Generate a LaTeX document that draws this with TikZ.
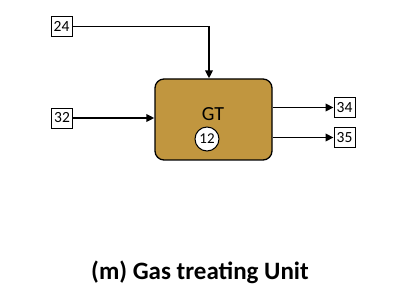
\documentclass[tikz,border=0pt]{standalone}
\usepackage{fontspec}
\setmainfont{Carlito}
\usetikzlibrary{arrows.meta}
\definecolor{gtfill}{HTML}{C1963F}
\begin{document}
\begin{tikzpicture}[x=1pt,y=-1pt,
  tag/.style={draw=black,line width=0.9pt,fill=white,minimum width=21pt,minimum height=20pt,inner sep=0pt,font=\fontsize{15.5}{15.5}\selectfont},
  unit/.style={draw=black,line width=1.3pt,fill=gtfill,rounded corners=9pt,minimum width=117pt,minimum height=81pt,inner sep=0pt},
  flow/.style={line width=1.8pt,-{Triangle[length=8pt,width=7.5pt]}},
  badge/.style={circle,draw=black,line width=1pt,fill=white,minimum size=24pt,inner sep=0pt,font=\fontsize{15}{15}\selectfont}]
\useasboundingbox (0,0) rectangle (400,286);
\node[unit] (gt) at (213.5,119.5) {};
\node[font=\fontsize{20}{20}\selectfont,anchor=base] (gtlabel) at (213,121) {GT};
\node[badge] (b12) at (207,139) {12};
\node[tag] (t24) at (61.5,26.5) {24};
\node[tag] (t32) at (62,118) {32};
\node[tag] (t34) at (344.5,107.5) {34};
\node[tag] (t35) at (344.5,137.5) {35};
\coordinate (c24) at (209,26.5);
\draw[flow] (t24.east) -- (c24) -- (c24 |- gt.north);
\draw[flow] (t32.east) -- (t32.east -| gt.west);
\draw[flow] (t34.west -| gt.east) -- (t34.west);
\draw[flow] (t35.west -| gt.east) -- (t35.west);
\node[font=\fontsize{25}{25}\selectfont\bfseries,anchor=base] (title) at (200,280) {(m) Gas treating Unit};
\end{tikzpicture}
\end{document}
